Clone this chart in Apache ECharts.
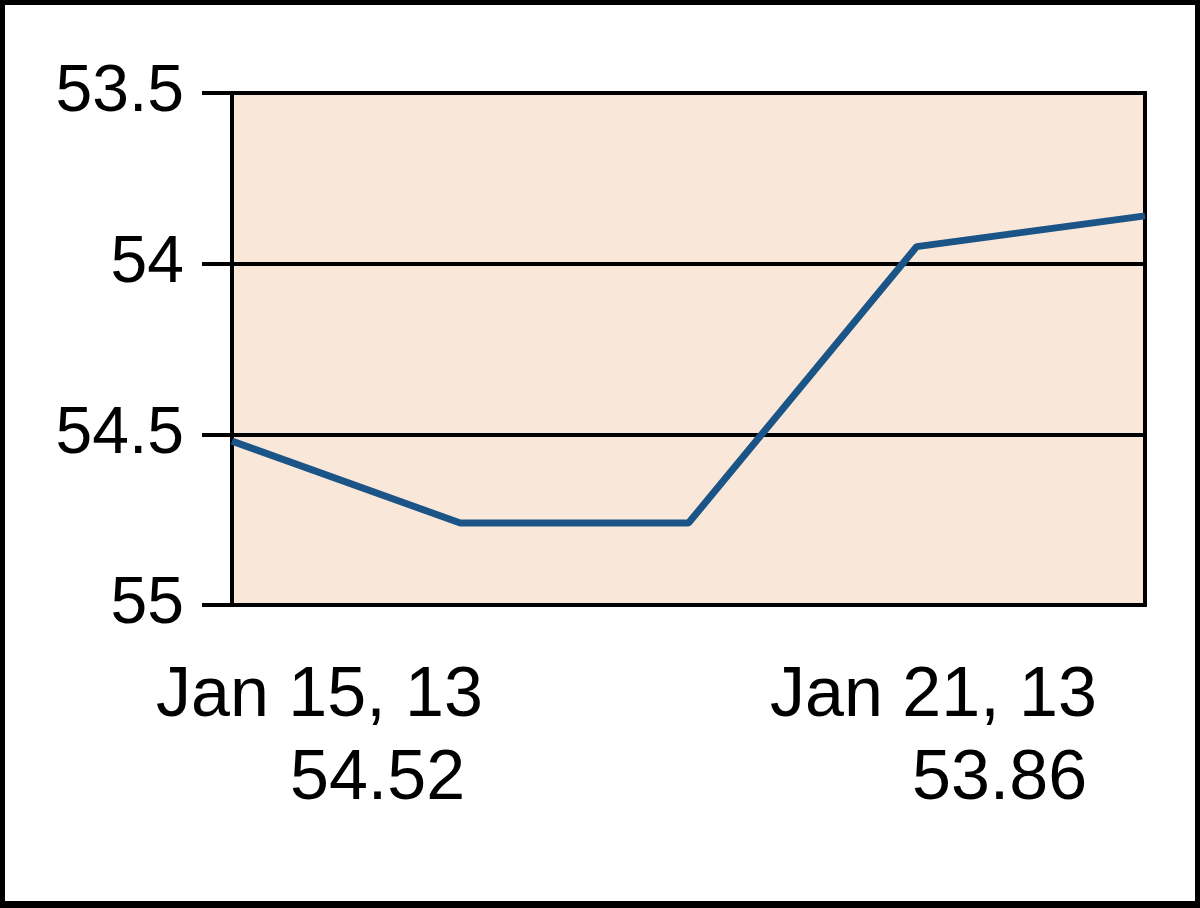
<!DOCTYPE html>
<html><head><meta charset="utf-8">
<script src="https://cdn.jsdelivr.net/npm/echarts@6/dist/echarts.min.js"></script>
<style>
html,body{margin:0;padding:0;background:#fff;}
#wrap{position:absolute;left:0;top:0;width:1200px;height:908px;box-sizing:border-box;border:5px solid #000;border-bottom-width:7px;}
#c{position:absolute;left:0;top:0;width:1200px;height:908px;}
</style></head>
<body>
<div id="c"></div>
<div id="wrap"></div>
<script>
const dates = ['Jan 15, 13', 'Jan 16, 13', 'Jan 17, 13', 'Jan 18, 13', 'Jan 21, 13'];
const values = [54.52, 54.76, 54.76, 53.95, 53.86];
const yTicks = [53.5, 54, 54.5, 55];
const firstLabel = [dates[0], values[0].toFixed(2)];
const lastLabel = [dates[dates.length - 1], values[values.length - 1].toFixed(2)];

const chart = echarts.init(document.getElementById('c'), null, {renderer: 'canvas'});
const font = '"Liberation Sans", Arial, sans-serif';
chart.setOption({
  animation: false,
  grid: {left: 232, right: 55, top: 93, bottom: 303, show: true,
         backgroundColor: '#F9E8D9', borderColor: '#000', borderWidth: 4},
  xAxis: {type: 'category', data: dates, boundaryGap: false,
          axisLine: {show: false}, axisTick: {show: false}, axisLabel: {show: false},
          splitLine: {show: false}},
  yAxis: {type: 'value', inverse: true, min: yTicks[0], max: yTicks[yTicks.length - 1], interval: 0.5,
          axisLine: {show: true, lineStyle: {color: '#000', width: 4}},
          axisTick: {show: true, length: 30, lineStyle: {color: '#000', width: 4}},
          axisLabel: {color: '#000', fontSize: 66, fontFamily: font, margin: 48,
                      formatter: v => String(v)},
          splitLine: {show: true, lineStyle: {color: '#000', width: 4}}},
  series: [{type: 'line', data: values, symbol: 'none',
            lineStyle: {color: '#1B5587', width: 7}}],
  graphic: [
    {type: 'text', left: 156, top: 662, style: {text: firstLabel[0], font: '70px ' + font, fill: '#000'}},
    {type: 'text', left: 290, top: 745, style: {text: firstLabel[1], font: '70px ' + font, fill: '#000'}},
    {type: 'text', left: 770, top: 662, style: {text: lastLabel[0], font: '70px ' + font, fill: '#000'}},
    {type: 'text', left: 912, top: 745, style: {text: lastLabel[1], font: '70px ' + font, fill: '#000'}}
  ]
});
</script>
</body></html>
